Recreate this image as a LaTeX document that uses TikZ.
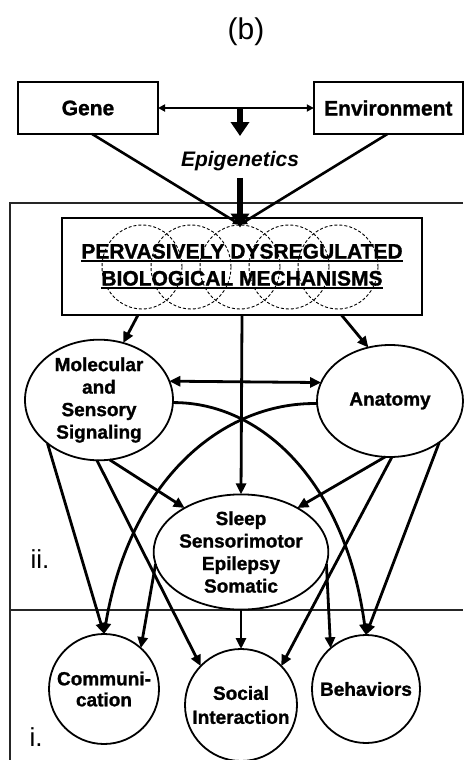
\documentclass[tikz,border=0pt]{standalone}
\usepackage{fontspec}
\setmainfont{Liberation Sans}[BoldFeatures={FakeBold=1.2}]
\newcommand\myul[1]{\leavevmode\setbox0\hbox{#1}\rlap{\copy0}\raisebox{-3.5pt}{\rule{\wd0}{1.8pt}}}
\usetikzlibrary{arrows.meta,shapes.geometric}
\begin{document}
\begin{tikzpicture}[x=1pt,y=-1pt,
  txt/.style={font=\fontsize{19}{22.5}\selectfont\bfseries, align=center},
  ell/.style={ellipse, draw, line width=1.8pt, inner sep=0pt, outer sep=0pt, txt},
  circ/.style={circle, draw, line width=1.8pt, inner sep=0pt, outer sep=0pt, minimum size=110pt, txt},
  topbox/.style={rectangle, draw, line width=1.6pt, inner sep=0pt, outer sep=0pt, minimum height=52pt, font=\fontsize{21}{25}\selectfont\bfseries},
  dcirc/.style={ellipse, draw, dashed, line width=0.9pt, dash pattern=on 3pt off 2pt, minimum width=80pt, minimum height=84pt, inner sep=0pt},
  conn/.style={line width=2.8pt, -{Triangle[length=11pt,width=10pt]}},
  thin/.style={line width=2.6pt, -{Triangle[length=7pt,width=7pt]}},
  big/.style={line width=6pt, -{Triangle[length=14pt,width=18pt]}},
  frame/.style={line width=1.2pt, black!85},
  lab/.style={font=\fontsize{26}{30}\selectfont, inner sep=0pt}
]
\useasboundingbox (0,0) rectangle (463,760);

% title
\node[font=\fontsize{30}{34}\selectfont, inner sep=0pt] (title) at (246,32) {(b)};

% frame
\draw[frame] (463,203) -- (10,203) -- (10,760);
\draw[frame] (10,610) -- (463,610);

% top boxes
\node[topbox, minimum width=140pt] (gene) at (88,108) {Gene};
\node[topbox, minimum width=149pt] (env) at (388.3,108) {Environment};
\coordinate (mid) at (240,108);
\node[font=\fontsize{21}{25}\selectfont\bfseries\itshape, inner sep=0pt] (epi) at (240,161) {Epigenetics};

% dashed circles
\node[dcirc] (c1) at (142,267) {};
\node[dcirc] (c2) at (191,267) {};
\node[dcirc] (c3) at (240,267) {};
\node[dcirc] (c4) at (289,267) {};
\node[dcirc] (c5) at (338,267) {};

% mechanisms box
\node[draw, line width=1.6pt, minimum width=360pt, minimum height=97pt, inner sep=0pt, outer sep=0pt,
      font=\fontsize{21}{27}\selectfont\bfseries, align=center] (mech) at (242,266.5)
      {\myul{PERVASIVELY DYSREGULATED}\\\myul{BIOLOGICAL MECHANISMS}};

% middle level
\node[ell, minimum width=148pt, minimum height=110pt] (mol) at (99,400) {Molecular\\and\\Sensory\\Signaling};
\node[ell, minimum width=146pt, minimum height=112pt] (ana) at (390,401) {Anatomy};
\node[ell, minimum width=148pt, minimum height=110pt] (sleep) at (241,552) {Sleep\\Sensorimotor\\Epilepsy\\Somatic};

% bottom level
\node[circ, font=\fontsize{19}{21}\selectfont\bfseries] (comm) at (104,689) {Communi-\\cation};
\node[circ, minimum size=112pt, font=\fontsize{19}{24}\selectfont\bfseries] (soc) at (241,705) {Social\\Interaction};
\node[circ, minimum size=108pt] (beh) at (366,689) {Behaviors};

% level labels
\node[lab] (l2) at (40,559) {ii.};
\node[lab] (l1) at (36,737) {i.};

% top connections
\draw[line width=2.4pt, {Triangle[length=7pt,width=7pt]}-{Triangle[length=7pt,width=7pt]}] (gene.east) -- (env.west);
\draw[big, shorten >=15pt] (mid) -- (epi.north);
\draw[big, shorten <=7pt, shorten >=-3pt] (epi.south) -- (c3.north);
\draw[thin] (gene.-81) -- (c3.north);
\draw[thin] (env.-92) -- (c3.north);

% from mechanisms
\draw[conn] (mech.205.4) -- (mol.67);
\draw[conn] (mech.-26) -- (ana.112);
\draw[conn] (mech.south) -- (sleep.north);

% molecular <-> anatomy
\draw[line width=2.8pt, {Triangle[length=11pt,width=10pt]}-{Triangle[length=11pt,width=10pt]}] (mol.15) -- (ana.165);

% from molecular
\draw[conn] (mol.220) -- (comm.north);
\draw[conn] (mol.-92) -- (soc.136);
\draw[conn] (mol.-80) -- (sleep.142);
\draw[conn] (mol.-2) .. controls (260,402) and (345,480) .. (beh.north);

% from anatomy
\draw[conn] (ana.-40) -- (beh.north);
\draw[conn] (ana.-95) -- (sleep.38);
\draw[conn] (ana.-88) -- (soc.44);
\draw[conn] (ana.182) .. controls (222,402) and (130,480) .. (comm.north);

% from sleep
\draw[conn] (sleep.188) -- (comm.48);
\draw[conn] (sleep.-8) -- (beh.131);
\draw[conn] (sleep.south) -- (soc.north);
\end{tikzpicture}
\end{document}
